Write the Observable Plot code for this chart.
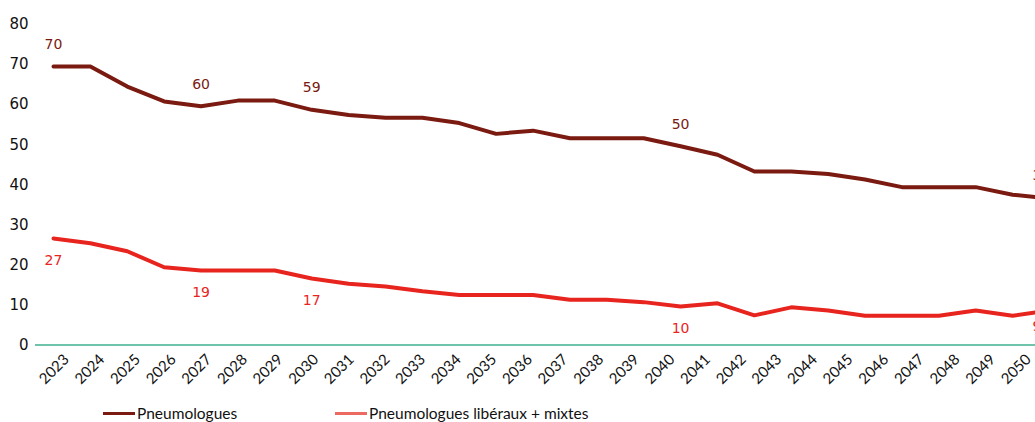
<!DOCTYPE html>
<html>
<head>
<meta charset="utf-8">
<script src="https://cdn.jsdelivr.net/npm/d3@7"></script>
<script src="https://cdn.jsdelivr.net/npm/@observablehq/plot@0.6"></script>
<style>
  html, body { margin: 0; padding: 0; background: #fff; overflow: hidden; width: 1035px; height: 422px; }
  #chart svg { display: block; overflow: hidden; }
  .legend { position: relative; width: 1035px; height: 22px; font-family: Lato, "Liberation Sans", sans-serif; font-size: 15.5px; color: #111; }
  .legend .sw { position: absolute; top: 12px; width: 32px; height: 3px; }
  .legend .lb { position: absolute; top: 3px; line-height: 20px; white-space: nowrap; }
</style>
</head>
<body>
<div id="chart"></div>
<script>
const years = [2023, 2024, 2025, 2026, 2027, 2028, 2029, 2030, 2031, 2032, 2033, 2034, 2035, 2036,
               2037, 2038, 2039, 2040, 2041, 2042, 2043, 2044, 2045, 2046, 2047, 2048, 2049, 2050];
const pneumologues = [69.5, 69.5, 64.5, 60.8, 59.6, 61.0, 61.0, 58.7, 57.4, 56.7, 56.7, 55.4, 52.7, 53.5,
                      51.6, 51.6, 51.6, 49.6, 47.5, 43.3, 43.3, 42.7, 41.3, 39.4, 39.4, 39.4, 37.5, 36.6];
const liberaux = [26.6, 25.4, 23.4, 19.4, 18.6, 18.6, 18.6, 16.6, 15.3, 14.6, 13.4, 12.5, 12.5, 12.5,
                  11.3, 11.3, 10.7, 9.6, 10.4, 7.4, 9.4, 8.6, 7.3, 7.3, 7.3, 8.6, 7.3, 8.6];
const labelYears = [2023, 2027, 2030, 2040];
const endYear = 2050;
const yTicks = [0, 10, 20, 30, 40, 50, 60, 70, 80];
const seriesNames = ["Pneumologues", "Pneumologues libéraux + mixtes"];

const darkColor = "#7A1A10";
const redColor = "#E8241E";
const legendRed = "#EC6A5F";
const baseColor = "#6DC4AA";

const data = years.map((year, i) => ({year, pneumo: pneumologues[i], lib: liberaux[i]}));
const labeled = data.filter(d => labelYears.includes(d.year));
const ending = data.filter(d => d.year === endYear);

// category labels sit on a slightly tighter pitch than the plotted points (as in the source chart)
const tickAxes = years.map((y, i) => Plot.axisX({
  ticks: [y], tickRotate: -45, tickSize: 0, tickPadding: 12, tickFormat: d => String(d),
  fontSize: 15, fontFamily: "Lato", fill: "#111", label: null, dx: 13 - 1.26 * i
}));

const plot = Plot.plot({
  width: 1035,
  height: 400,
  marginTop: 24,
  marginBottom: 55.5,
  marginLeft: 35,
  marginRight: 0,
  style: {background: "white", overflow: "hidden"},
  x: {type: "point", domain: years, range: [53, 1049], padding: 0, round: false, label: null},
  y: {domain: [0, 80], label: null},
  marks: [
    Plot.axisY({ticks: yTicks, tickSize: 0, tickPadding: 7, fontSize: 15, fontFamily: "DejaVu Sans", fill: "#111", label: null}),
    ...tickAxes,
    Plot.ruleY([0], {stroke: baseColor, strokeWidth: 2}),
    Plot.lineY(data, {x: "year", y: "pneumo", stroke: darkColor, strokeWidth: 4}),
    Plot.lineY(data, {x: "year", y: "lib", stroke: redColor, strokeWidth: 4}),
    Plot.text(labeled, {x: "year", y: "pneumo", text: d => String(Math.round(d.pneumo)), dy: -22,
                        fill: darkColor, fontSize: 14, fontFamily: "DejaVu Sans"}),
    Plot.text(labeled, {x: "year", y: "lib", text: d => String(Math.round(d.lib)), dy: 22,
                        fill: redColor, fontSize: 14, fontFamily: "DejaVu Sans"}),
    Plot.text(ending, {x: "year", y: "pneumo", text: d => String(Math.round(d.pneumo)), dy: -23, dx: -17,
                       textAnchor: "start", fill: darkColor, fontSize: 14, fontFamily: "DejaVu Sans"}),
    Plot.text(ending, {x: "year", y: "lib", text: d => String(Math.round(d.lib)), dy: 16, dx: -17,
                       textAnchor: "start", fill: redColor, fontSize: 14, fontFamily: "DejaVu Sans"})
  ]
});
document.getElementById("chart").appendChild(plot);

const legend = document.createElement("div");
legend.className = "legend";
legend.innerHTML = `
  <div class="sw" style="left:103px;background:${darkColor}"></div>
  <div class="lb" style="left:137px">${seriesNames[0]}</div>
  <div class="sw" style="left:335px;background:${legendRed}"></div>
  <div class="lb" style="left:369px">${seriesNames[1]}</div>`;
document.getElementById("chart").appendChild(legend);
</script>
</body>
</html>
